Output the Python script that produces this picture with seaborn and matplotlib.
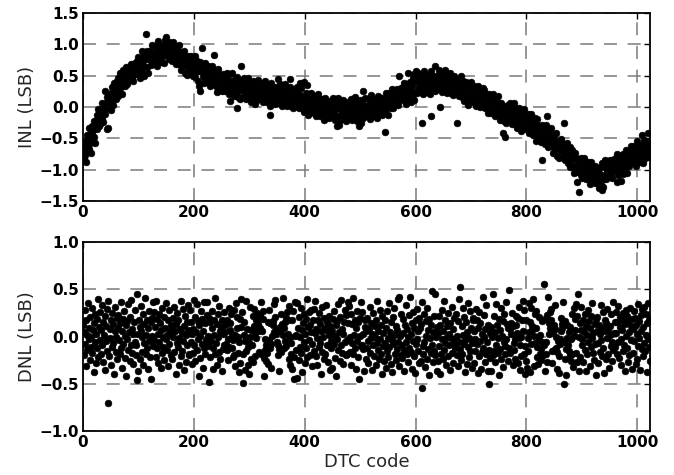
import numpy as np
import pandas as pd
import matplotlib
matplotlib.use("Agg")
import matplotlib.pyplot as plt
import seaborn as sns

# INL values (hundredths of LSB), 32 codes per row, codes 0..1023
INL_CENTI = [
    -72,-60,-81,-54,-76,-65,-87,-69, -45,-61,-34,-67,-50,-57,-41,-73, -30,-45,-36,-22,-48,-34,-58,-27, -25,-13,-35,-16,-3,-30,-21,-27,
    -15,-4,7,-19,-6,-24,1,-11, 25,-1,6,16,-35,12,-33,18, 6,18,-4,23,32,11,3,20, 38,20,30,13,40,26,34,18,
    47,25,41,55,32,37,49,20, 50,59,37,47,34,64,41,52, 37,52,64,43,56,49,68,45, 44,66,59,41,68,53,71,56,
    62,74,53,80,58,69,47,65, 78,62,89,56,73,66,82,50, 82,117,76,90,64,78,54,85, 77,89,67,86,99,72,81,75,
    75,86,97,71,84,66,91,79, 106,80,87,97,72,93,85,99, 81,93,71,98,107,86,112,95, 102,84,94,77,104,90,98,82,
    95,73,89,103,80,85,97,68, 85,94,72,82,69,99,76,87, 59,74,86,65,78,71,90,67, 54,76,69,51,78,63,81,66,
    64,76,55,82,60,71,49,67, 70,54,81,48,65,58,74,42, 64,33,58,72,25,60,94,67, 49,61,39,58,71,44,53,47,
    43,54,65,39,52,34,59,47, 66,40,47,57,83,53,45,59, 34,46,24,51,60,39,31,48, 50,32,42,25,52,38,46,30,
    47,25,41,55,32,37,49,20, 40,10,27,37,24,54,31,42, 17,32,44,23,36,-2,48,25, 16,38,31,13,40,65,43,28,
    28,40,19,46,24,35,13,31, 36,20,47,14,31,24,40,8, 33,18,27,41,15,29,5,36, 21,33,11,30,43,16,25,19,
    17,28,39,13,26,8,33,21, 42,16,23,33,8,29,21,35, 12,-12,2,29,38,17,9,26, 30,12,22,5,32,18,26,10,
    45,7,23,37,14,19,31,2, 23,32,10,20,7,37,14,25, 1,16,28,7,20,45,32,9, 1,23,16,-2,25,10,28,13,
    14,26,5,32,10,21,-1,17, 38,4,31,-2,15,8,40,-8, 15,0,9,23,-3,35,-13,18, 1,13,-9,10,23,-4,5,-1,
    -5,6,17,-9,4,-14,11,-1, 20,-6,1,11,-14,7,-1,13, -11,1,-21,6,15,-6,-14,3, 8,-10,0,-17,10,-4,4,-12,
    7,-15,1,15,-8,-3,9,-20, 1,10,-30,-2,-15,15,-28,3, -20,-5,7,-14,-1,-8,11,-12, -19,3,-4,-22,5,-10,8,-7,
    -5,7,-14,13,-9,2,-20,-2, 5,-11,16,-17,0,-7,9,-23, 3,-12,-30,11,-15,-1,-25,6, -8,25,-18,1,14,-13,-4,-10,
    -10,1,12,-14,-1,-19,6,-6, 19,-7,0,10,-15,6,-2,12, -8,4,-18,9,18,-3,-11,6, 13,-5,5,-12,15,1,9,-7,
    -40,-8,8,22,-1,4,16,-13, 14,23,1,11,-2,28,5,16, -2,13,25,4,17,10,29,6, 3,25,18,50,27,12,30,15,
    20,32,11,38,16,27,5,23, 36,20,55,14,31,24,40,8, 39,24,33,47,21,52,11,42, 58,45,23,42,55,28,37,31,
    29,40,51,-25,38,20,45,33, 58,32,39,49,24,45,37,51, 31,43,21,-15,57,36,28,45, 50,32,42,25,65,38,46,30,
    51,29,45,59,36,0,53,24, 45,54,32,42,29,59,36,47, 23,38,50,29,42,35,54,31, 22,44,37,19,46,31,49,34,
    32,44,23,-25,28,39,17,35, 38,22,49,16,33,26,42,10, 32,17,26,40,14,28,4,35, 18,30,8,27,40,13,22,16,
    11,22,33,7,20,2,27,15, 34,8,15,25,0,21,13,27, 1,30,25,18,27,6,-2,15, 16,-2,8,-9,18,20,12,-4,
    12,-10,6,20,-3,2,14,-15, 4,13,-9,1,-12,18,-5,6, -20,-5,7,-14,-1,-8,-42,-12, -23,-1,-48,-26,1,-14,4,-11,
    -12,0,-21,6,-16,-5,-27,-9, -5,-21,6,-27,-10,-17,-1,-33, -10,-25,-16,-2,-28,-14,-38,-7, -25,-13,-35,-16,-3,-30,-21,-27,
    -33,-22,-11,-37,-24,-42,-17,-29, -11,-37,-30,-20,-45,-24,-32,-18, -45,-33,-55,-28,-19,-40,-48,-31, -31,-49,-39,-56,-29,-85,-35,-51,
    -37,-59,-43,-29,-52,-47,-15,-64, -47,-38,-60,-50,-63,-33,-56,-45, -73,-58,-46,-67,-54,-61,-42,-65, -78,-56,-63,-81,-54,-69,-51,-66,
    -70,-58,-79,-25,-74,-63,-85,-67, -68,-84,-57,-90,-73,-80,-64,-96, -77,-92,-83,-69,-95,-81,-105,-74, -94,-82,-104,-85,-120,-99,-135,-96,
    -104,-93,-82,-108,-95,-113,-88,-100, -81,-107,-100,-90,-115,-94,-102,-88, -113,-101,-123,-96,-87,-108,-116,-99, -96,-114,-104,-121,-94,-108,-100,-116,
    -97,-119,-103,-130,-112,-107,-95,-124, -132,-90,-112,-128,-115,-85,-108,-97, -115,-100,-88,-109,-96,-103,-84,-107, -110,-88,-95,-113,-86,-101,-83,-98,
    -93,-81,-102,-75,-120,-86,-108,-90, -79,-95,-118,-101,-84,-91,-75,-107, -77,-92,-83,-69,-95,-81,-105,-74, -84,-72,-94,-75,-62,-89,-80,-86,
    -85,-74,-63,-89,-76,-94,-69,-81, -54,-80,-73,-63,-88,-67,-75,-61, -79,-45,-89,-62,-53,-74,-82,-65, -54,-72,-62,-79,-42,-66,-58,-74,
]

# DNL values (hundredths of LSB), 32 codes per row
DNL_CENTI = [
    12,-20,5,28,-8,-31,17,2,-14,35,-3,9,-25,21,-11,0,30,-17,7,-38,14,-6,24,-28,3,19,-12,40,-22,10,-4,26,
    -18,7,33,-9,15,-27,2,22,-35,11,-5,29,-15,-70,38,-21,8,-2,-30,18,-11,25,-7,13,-40,6,31,-16,-1,20,-24,9,
    23,-4,-19,14,37,-12,6,-33,19,-8,27,1,-23,12,-42,16,-3,34,-14,5,-26,21,-9,39,-17,8,-29,3,15,-6,28,-20,
    -9,45,-46,3,-37,18,10,-24,6,32,-16,-1,24,-30,13,-7,41,-19,2,17,-12,-34,9,27,-5,-22,15,-45,20,1,-10,36,
    26,-4,10,-22,38,-12,19,3,-28,24,-6,14,-33,7,-17,30,0,-11,21,-25,9,-3,35,-14,2,17,-31,-8,28,5,-20,12,
    9,-24,20,-1,-16,31,6,-40,13,-7,25,-11,18,-30,-2,8,-21,38,4,-15,29,-5,11,-35,22,2,-27,15,-9,33,7,-18,
    -20,28,-6,15,3,-29,8,-17,39,-9,21,-26,5,-14,34,-3,16,-42,12,-23,1,27,-8,19,-33,6,-12,37,14,-19,-4,23,
    36,-10,1,20,-48,15,-22,-5,27,9,-34,-12,17,2,-19,41,-7,13,-30,24,-1,-16,32,6,-24,10,18,-37,3,-13,26,-9,
    12,5,-8,17,-14,-3,-25,-11,30,7,14,24,3,-12,-22,-4,-20,28,-31,2,35,9,21,0,-17,-38,-6,-28,19,40,10,26,
    -18,-49,15,2,-35,-5,-15,38,8,-30,-11,-7,-40,31,-1,-24,7,-9,-27,22,11,29,4,-21,-2,18,25,13,6,-16,20,9,
    23,-19,37,6,19,27,-23,-42,-3,-14,-26,-9,-17,-29,15,28,-4,14,-12,-33,-8,1,12,16,34,5,21,39,8,3,-6,-20,
    -9,-13,-37,10,6,-16,24,13,41,2,-12,9,-5,15,20,-10,26,3,18,-24,32,-1,-30,-7,-19,17,-34,27,-22,-45,1,36,
    2,-14,35,-44,9,-25,21,-11,0,30,-17,7,-38,14,-6,24,-28,3,19,-12,40,-22,10,-4,26,12,-20,5,28,-8,-31,17,
    29,-15,4,38,-21,8,-2,-30,18,-11,25,-7,13,-40,6,31,-16,-1,20,-24,9,-18,7,33,-9,15,-27,2,22,-35,11,-5,
    -12,6,-33,19,-8,27,1,-23,12,-42,16,-3,34,-14,5,-26,21,-9,39,-17,8,-29,3,15,-6,28,-20,23,-4,-19,14,37,
    32,-16,-1,24,-30,13,-7,41,-19,2,17,-12,-34,9,27,-5,-22,15,-45,20,1,-10,36,-9,26,-13,3,-37,18,10,-24,6,
    -12,20,-5,-28,8,31,-17,-2,14,-35,3,-9,25,-21,11,0,-30,17,-7,38,-14,6,-24,28,-3,-19,12,-40,22,-10,4,-26,
    18,-7,-33,9,-15,27,-2,-22,35,-11,5,-29,15,-4,-38,21,-8,2,30,-18,11,-25,7,-13,40,-6,-31,42,1,-20,24,-9,
    -23,4,19,-14,-37,12,-6,33,-19,8,-27,-1,23,-12,42,-16,3,-34,14,-5,26,-21,9,-39,17,-8,29,-3,-15,6,-28,20,
    9,-26,13,-55,37,-18,-10,24,-6,-32,16,1,-24,30,-13,7,-41,19,-2,-17,12,48,-9,-27,5,22,-15,45,-20,-1,10,-36,
    -26,4,-10,22,-40,12,-19,-3,28,-24,6,-14,38,-7,17,-30,0,11,-21,25,-9,3,-35,14,-2,-17,31,8,-28,-5,20,-12,
    -9,24,-20,1,16,-31,-6,40,-13,52,-25,11,-18,30,2,-8,21,-38,-4,15,-29,5,-11,35,-22,-2,27,-15,9,-33,-7,18,
    20,-28,6,-15,-3,29,-8,17,-39,9,-21,26,-5,14,-34,3,-16,42,-12,23,-1,-27,8,-19,33,-6,12,-37,-14,-50,4,-23,
    -36,10,-1,-20,45,-15,22,5,-27,-9,34,12,-17,-2,19,-41,7,-13,30,-24,1,16,-32,-6,24,-10,-18,37,-3,13,-26,9,
    -12,49,8,-17,14,3,25,11,-30,-7,-14,-24,-3,12,22,4,20,-28,31,-2,-35,-9,-21,0,17,38,6,28,-19,-40,-10,-26,
    18,-33,-15,-2,35,5,15,-38,-8,30,11,7,40,-31,1,24,-7,9,27,-22,-11,-29,-4,21,2,-18,-25,-13,-6,16,-20,-9,
    56,19,-37,-6,-19,-27,23,42,3,14,26,9,17,29,-15,-28,4,-14,12,33,8,-1,-12,-16,-34,-5,-21,-39,-8,-3,6,20,
    9,13,37,-50,-6,16,-24,-13,-41,-2,12,-9,5,-15,-20,10,-26,-3,-18,24,-32,1,30,7,19,-17,34,-27,22,45,-1,-36,
    14,-22,7,31,-9,-3,18,-27,5,24,-14,-36,11,2,-19,28,-6,16,-31,9,22,-11,-2,35,-17,4,-25,13,-8,19,-41,6,
    21,-7,-28,12,3,-16,33,-4,-21,9,26,-12,-39,17,6,-24,14,-2,29,-18,8,-33,11,2,-10,24,-6,-26,37,-14,4,15,
    -11,26,4,-19,15,32,-6,-23,10,21,-3,-30,18,7,-15,25,-9,13,-37,28,1,-12,22,-27,16,5,-20,30,-4,11,-34,19,
    8,-17,27,-5,20,-29,12,3,-24,34,-10,16,-2,-35,23,6,-13,29,-21,10,-7,31,-15,2,24,-38,14,-3,35,-11,18,-26,
]

X_TICKS = [0, 200, 400, 600, 800, 1000]
INL_TICKS = [-1.5, -1.0, -0.5, 0.0, 0.5, 1.0, 1.5]
DNL_TICKS = [-1.0, -0.5, 0.0, 0.5, 1.0]

codes = np.arange(len(INL_CENTI))
df_inl = pd.DataFrame({"code": codes, "INL": np.array(INL_CENTI) / 100.0})
df_dnl = pd.DataFrame({"code": np.arange(len(DNL_CENTI)), "DNL": np.array(DNL_CENTI) / 100.0})

sns.set_style("white")
plt.rcParams["font.family"] = ["DejaVu Sans"]

fig = plt.figure(figsize=(6.74, 4.75), dpi=100)
ax1 = fig.add_axes([0.1231, 0.5768, 0.8413, 0.3958])
ax2 = fig.add_axes([0.1231, 0.0926, 0.8413, 0.3979])

def style(ax, yticks, ylim, ylabel):
    ax.set_xlim(0, 1023)
    ax.set_ylim(*ylim)
    ax.set_xticks(X_TICKS)
    ax.set_yticks(yticks)
    ax.set_yticklabels([f"{t:.1f}".replace("-", "\u2212") for t in yticks])
    ax.set_xticklabels([str(t) for t in X_TICKS])
    ax.set_axisbelow(True)
    ax.grid(True, color="#7a7a7a", linestyle=(0, (8.5, 7)), linewidth=1.1)
    ax.tick_params(direction="in", top=True, right=True, length=4.5, width=1,
                   labelsize=11, pad=3, colors="black")
    for lab in ax.get_xticklabels() + ax.get_yticklabels():
        lab.set_fontweight("bold")
    for sp in ax.spines.values():
        sp.set_linewidth(1.3)
        sp.set_color("black")
        sp.set_visible(True)
    ax.set_ylabel(ylabel, fontsize=13, labelpad=2)

sns.scatterplot(data=df_inl, x="code", y="INL", ax=ax1, color="black",
                s=24, edgecolor="black", linewidth=0.4, zorder=3)
style(ax1, INL_TICKS, (-1.5, 1.5), "INL (LSB)")
ax1.set_xlabel("")

sns.scatterplot(data=df_dnl, x="code", y="DNL", ax=ax2, color="black",
                s=24, edgecolor="black", linewidth=0.4, zorder=3)
style(ax2, DNL_TICKS, (-1.0, 1.0), "DNL (LSB)")
ax2.set_xlabel("DTC code", fontsize=13, labelpad=2)

fig.savefig("out.png", dpi=100)
